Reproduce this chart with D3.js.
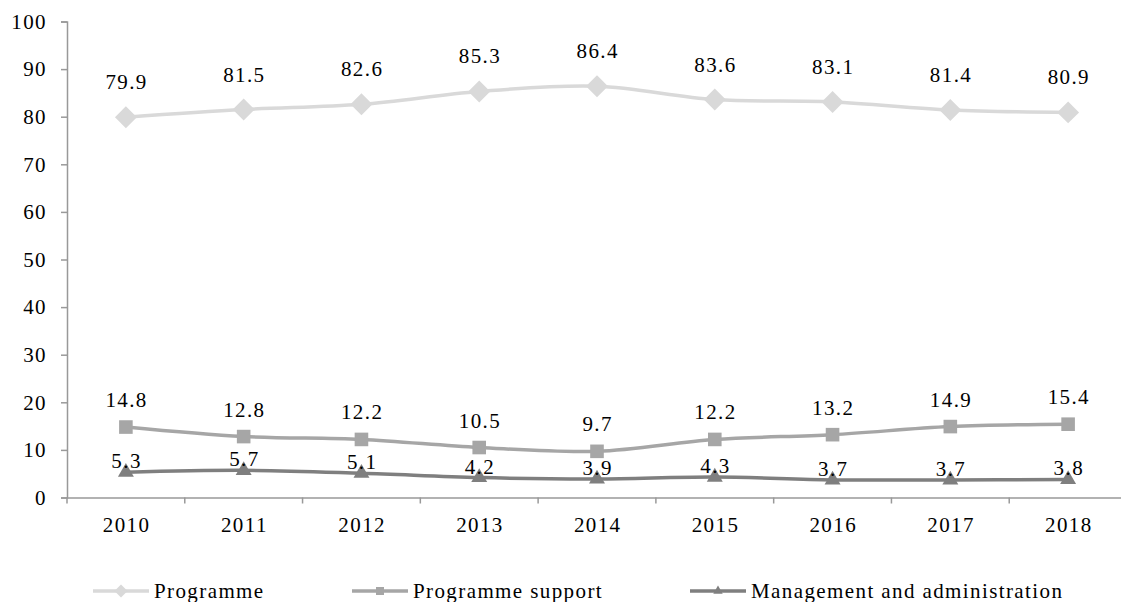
<!DOCTYPE html>
<html>
<head>
<meta charset="utf-8">
<script src="https://cdn.jsdelivr.net/npm/d3@7"></script>
<style>
  body { margin:0; background:#fff; }
</style>
</head>
<body>
<div id="chart"></div>
<script>
//data
var years = ["2010","2011","2012","2013","2014","2015","2016","2017","2018"];
var programme = [79.9,81.5,82.6,85.3,86.4,83.6,83.1,81.4,80.9];
var programmeSupport = [14.8,12.8,12.2,10.5,9.7,12.2,13.2,14.9,15.4];
var management = [5.3,5.7,5.1,4.2,3.9,4.3,3.7,3.7,3.8];
var yTicks = [0,10,20,30,40,50,60,70,80,90,100];

var FONT = "Liberation Serif";

var series = [
  {name:"Programme", values:programme, color:"#d9d9d9", symbol:d3.symbolSquare, rot:45, size:240, labelDy:-28},
  {name:"Programme support", values:programmeSupport, color:"#a6a6a6", symbol:d3.symbolSquare, rot:0, size:185, labelDy:-20},
  {name:"Management and administration", values:management, color:"#7f7f7f", symbol:d3.symbolTriangle, rot:0, size:110, labelDy:-4}
];

var W = 1121, H = 602;
var svg = d3.select("#chart").append("svg").attr("width",W).attr("height",H);

var x = d3.scaleBand().domain(years).range([67,1127]);
var y = d3.scaleLinear().domain([0,100]).range([497.5,21.5]);

function styleText(sel){
  sel.style("font-family",FONT).style("font-size","21px").style("letter-spacing","1.4px").attr("fill","#000");
}

//y axis
var gy = svg.append("g").attr("transform","translate(67,0)")
  .call(d3.axisLeft(y).tickValues(yTicks).tickSize(6).tickPadding(14));
gy.select(".domain").attr("stroke","#999").attr("stroke-width",1.5);
gy.selectAll(".tick line").attr("stroke","#999").attr("stroke-width",1.5);
gy.selectAll(".tick text").call(styleText);

//x axis
var gx = svg.append("g").attr("transform","translate(0,497.5)")
  .call(d3.axisBottom(x).tickSize(0).tickPadding(0));
gx.select(".domain").attr("stroke","#999").attr("stroke-width",1.5);
gx.selectAll(".tick text").attr("y",20).attr("dx","0.7px").call(styleText);
// band boundary ticks
gx.selectAll(".bnd").data(years.concat(["end"])).enter().append("line")
  .attr("x1",function(d,i){ return 67 + i*x.step(); })
  .attr("x2",function(d,i){ return 67 + i*x.step(); })
  .attr("y1",0).attr("y2",6).attr("stroke","#999").attr("stroke-width",1.5);

var cx = function(i){ return x(years[i]) + x.bandwidth()/2; };

var line = d3.line()
  .x(function(d,i){ return cx(i); })
  .y(function(d){ return y(d); })
  .curve(d3.curveCatmullRom.alpha(0.5));

series.forEach(function(s){
  var g = svg.append("g");
  g.append("path").datum(s.values)
    .attr("d",line).attr("fill","none").attr("stroke",s.color).attr("stroke-width",3.5);
  g.selectAll("path.mk").data(s.values).enter().append("path")
    .attr("class","mk")
    .attr("d",d3.symbol().type(s.symbol).size(s.size))
    .attr("transform",function(d,i){ return "translate("+cx(i)+","+y(d)+") rotate("+s.rot+")"; })
    .attr("fill",s.color);
  g.selectAll("text").data(s.values).enter().append("text")
    .attr("x",function(d,i){ return cx(i)+0.7; })
    .attr("y",function(d){ return y(d)+s.labelDy; })
    .attr("text-anchor","middle")
    .call(styleText)
    .text(function(d){ return d.toFixed(1); });
});

//legend
var legendX = [93,352,690];
var lg = svg.append("g").attr("transform","translate(0,591)");
series.forEach(function(s,i){
  var item = lg.append("g").attr("transform","translate("+legendX[i]+",0)");
  item.append("line").attr("x1",0).attr("x2",56).attr("y1",0).attr("y2",0)
    .attr("stroke",s.color).attr("stroke-width",3.5);
  item.append("path").attr("d",d3.symbol().type(s.symbol).size(s.size*0.35))
    .attr("transform","translate(28,0) rotate("+s.rot+")").attr("fill",s.color);
  item.append("text").attr("x",61).attr("y",7).call(styleText).text(s.name);
});
</script>
</body>
</html>
